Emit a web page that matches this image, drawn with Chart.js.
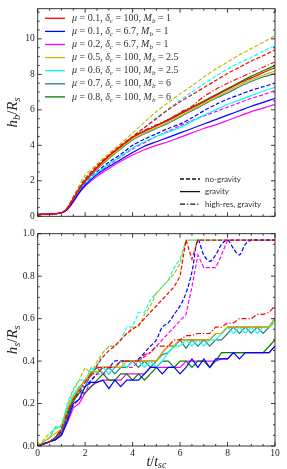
<!DOCTYPE html>
<html>
<head>
<meta charset="utf-8">
<script src="https://cdn.jsdelivr.net/npm/chart.js@4.4.1/dist/chart.umd.min.js"></script>
<style>
html, body { margin: 0; padding: 0; background: #fff; }
#wrap { position: relative; width: 287px; height: 469px; }
canvas { position: absolute; left: 0; }
#topChart { top: 0; }
#bottomChart { top: 225px; }
</style>
</head>
<body>
<div id="wrap">
  <canvas id="topChart" width="287" height="225"></canvas>
  <canvas id="bottomChart" width="287" height="244"></canvas>
</div>
<script>
// ── Legend parameters (order: red, blue, magenta, yellow, cyan, teal, green) ──
const colors = ['#ff0000', '#0000ff', '#ff00ff', '#bfbf00', '#00ffff', '#2a8080', '#008000'];
const muVals = ['0.1', '0.1', '0.2', '0.5', '0.6', '0.7', '0.8'];
const deltaVals = ['100', '6.7', '6.7', '100', '100', '100', '100'];
const mbVals = ['1', '1', '1', '2.5', '2.5', '6', '6'];

// ── Top panel: h_b / R_s ──────────────────────────────────────────────────
const topT = [0, 0.5, 1, 1.25, 1.5, 1.75, 2, 2.5, 3, 3.5, 4, 4.5, 5, 5.5, 6, 6.5, 7, 7.5, 8, 8.5, 9, 9.5, 10];
const topYTicks = [0, 2, 4, 6, 8, 10];

const topRedSolid     = [0.1, 0.12, 0.2, 0.45, 1.0, 1.55, 2.0, 2.75, 3.4, 3.95, 4.45, 4.8, 5.1, 5.4, 5.75, 6.1, 6.45, 6.8, 7.15, 7.5, 7.8, 8.1, 8.37];
const topBlueSolid    = [0.1, 0.12, 0.2, 0.4, 0.85, 1.35, 1.75, 2.35, 2.8, 3.2, 3.6, 3.95, 4.2, 4.45, 4.7, 4.95, 5.2, 5.45, 5.7, 5.95, 6.2, 6.42, 6.64];
const topMagentaSolid = [0.1, 0.12, 0.2, 0.38, 0.8, 1.3, 1.7, 2.25, 2.7, 3.1, 3.45, 3.75, 4.0, 4.2, 4.45, 4.7, 4.95, 5.15, 5.4, 5.65, 5.9, 6.1, 6.31];
const topYellowSolid  = [0.1, 0.12, 0.2, 0.45, 1.0, 1.55, 1.98, 2.7, 3.3, 3.85, 4.35, 4.7, 5.0, 5.3, 5.65, 6.0, 6.35, 6.7, 7.05, 7.4, 7.7, 7.95, 8.19];
const topCyanSolid    = [0.1, 0.12, 0.2, 0.4, 0.9, 1.4, 1.8, 2.45, 2.95, 3.4, 3.85, 4.2, 4.5, 4.75, 5.0, 5.35, 5.7, 6.0, 6.3, 6.55, 6.8, 7.05, 7.27];
const topTealSolid    = [0.1, 0.12, 0.2, 0.45, 1.0, 1.5, 1.95, 2.65, 3.25, 3.8, 4.3, 4.65, 4.95, 5.25, 5.6, 5.95, 6.3, 6.65, 6.95, 7.3, 7.6, 7.85, 8.05];
const topGreenSolid   = [0.1, 0.12, 0.2, 0.45, 1.0, 1.55, 2.0, 2.75, 3.4, 3.9, 4.45, 4.8, 5.1, 5.45, 5.8, 6.15, 6.5, 6.85, 7.2, 7.55, 7.9, 8.2, 8.5];

const topRedDashed     = [0.1, 0.12, 0.2, 0.47, 1.05, 1.6, 2.1, 2.85, 3.45, 4.0, 4.5, 5.0, 5.5, 6.0, 6.45, 6.85, 7.25, 7.65, 8.05, 8.4, 8.75, 9.05, 9.38];
const topBlueDashed    = [0.1, 0.12, 0.2, 0.42, 0.9, 1.45, 1.85, 2.5, 3.05, 3.5, 4.0, 4.35, 4.65, 4.95, 5.2, 5.55, 5.95, 6.3, 6.6, 6.85, 7.1, 7.3, 7.5];
const topMagentaDashed = [0.1, 0.12, 0.2, 0.4, 0.85, 1.4, 1.8, 2.4, 2.9, 3.35, 3.8, 4.15, 4.5, 4.8, 5.1, 5.4, 5.65, 5.9, 6.15, 6.4, 6.65, 6.85, 7.08];
const topYellowDashed  = [0.1, 0.12, 0.2, 0.5, 1.1, 1.75, 2.3, 2.95, 3.55, 4.1, 4.7, 5.3, 5.9, 6.4, 6.9, 7.35, 7.85, 8.3, 8.7, 9.1, 9.45, 9.8, 10.18];
const topCyanDashed    = [0.1, 0.12, 0.2, 0.48, 1.05, 1.65, 2.15, 2.8, 3.35, 3.9, 4.45, 5.0, 5.55, 6.05, 6.55, 7.0, 7.45, 7.9, 8.3, 8.65, 8.95, 9.3, 9.62];
const topRedDashDot    = [0.1, 0.12, 0.2, 0.45, 1.0, 1.55, 2.0, 2.75, 3.4, 3.95, 4.45, 4.85, 5.15, 5.45, 5.85, 6.2, 6.75, 7.15, 7.5, 7.8, 8.1, 8.4, 8.7];

// ── Bottom panel: h_s / R_s ───────────────────────────────────────────────
const botT = [0, 0.25, 0.5, 0.75, 1, 1.25, 1.5, 1.75, 2, 2.25, 2.5, 2.75, 3, 3.25, 3.5, 3.75, 4, 4.25, 4.5, 4.75,
              5, 5.25, 5.5, 5.75, 6, 6.25, 6.5, 6.75, 7, 7.25, 7.5, 7.75, 8, 8.25, 8.5, 8.75, 9, 9.25, 9.5, 9.75, 10];
const botXTicks = [0, 2, 4, 6, 8, 10];
const botYTicks = [0, 0.2, 0.4, 0.6, 0.8, 1.0];

const botRedSolid     = [0, 0.01, 0.02, 0.04, 0.08, 0.16, 0.22, 0.27, 0.31, 0.34, 0.37, 0.37, 0.37, 0.37, 0.4, 0.4, 0.4, 0.4, 0.4, 0.4, 0.4, 0.44, 0.47, 0.47, 0.5, 0.5, 0.5, 0.5, 0.5, 0.5, 0.53, 0.53, 0.56, 0.56, 0.56, 0.56, 0.56, 0.56, 0.56, 0.56, 0.6];
const botBlueSolid    = [0, 0.01, 0.02, 0.03, 0.05, 0.12, 0.2, 0.22, 0.28, 0.3, 0.3, 0.31, 0.27, 0.31, 0.28, 0.31, 0.31, 0.31, 0.34, 0.37, 0.37, 0.34, 0.37, 0.37, 0.34, 0.37, 0.41, 0.37, 0.41, 0.37, 0.41, 0.41, 0.41, 0.44, 0.41, 0.44, 0.44, 0.44, 0.44, 0.44, 0.47];
const botMagentaSolid = [0, 0.01, 0.02, 0.03, 0.05, 0.11, 0.18, 0.2, 0.25, 0.28, 0.3, 0.31, 0.31, 0.31, 0.31, 0.34, 0.34, 0.34, 0.34, 0.37, 0.37, 0.37, 0.37, 0.37, 0.37, 0.4, 0.4, 0.4, 0.4, 0.4, 0.4, 0.41, 0.41, 0.44, 0.44, 0.44, 0.44, 0.44, 0.44, 0.44, 0.47];
const botYellowSolid  = [0, 0.02, 0.04, 0.06, 0.08, 0.17, 0.23, 0.27, 0.31, 0.35, 0.35, 0.37, 0.37, 0.37, 0.37, 0.4, 0.4, 0.4, 0.4, 0.4, 0.4, 0.44, 0.47, 0.47, 0.5, 0.5, 0.5, 0.5, 0.5, 0.5, 0.53, 0.53, 0.56, 0.56, 0.56, 0.56, 0.56, 0.56, 0.56, 0.56, 0.6];
const botCyanSolid    = [0, 0.02, 0.04, 0.09, 0.09, 0.18, 0.24, 0.28, 0.3, 0.37, 0.34, 0.37, 0.34, 0.37, 0.4, 0.37, 0.4, 0.4, 0.37, 0.4, 0.37, 0.4, 0.44, 0.47, 0.47, 0.5, 0.47, 0.5, 0.47, 0.5, 0.5, 0.53, 0.56, 0.53, 0.56, 0.53, 0.56, 0.53, 0.56, 0.56, 0.58];
const botTealSolid    = [0, 0.01, 0.02, 0.04, 0.06, 0.16, 0.22, 0.28, 0.28, 0.34, 0.37, 0.34, 0.37, 0.34, 0.37, 0.37, 0.4, 0.37, 0.4, 0.37, 0.4, 0.43, 0.44, 0.47, 0.5, 0.46, 0.5, 0.47, 0.5, 0.47, 0.5, 0.5, 0.53, 0.56, 0.53, 0.56, 0.53, 0.56, 0.53, 0.56, 0.6];
const botGreenSolid   = [0, 0.01, 0.02, 0.03, 0.06, 0.14, 0.21, 0.25, 0.25, 0.28, 0.31, 0.34, 0.31, 0.31, 0.34, 0.34, 0.31, 0.34, 0.31, 0.34, 0.37, 0.4, 0.4, 0.37, 0.4, 0.4, 0.37, 0.4, 0.4, 0.37, 0.4, 0.44, 0.44, 0.44, 0.44, 0.44, 0.44, 0.44, 0.44, 0.47, 0.5];

const botRedDashed     = [0, 0.01, 0.02, 0.04, 0.08, 0.17, 0.23, 0.27, 0.31, 0.33, 0.38, 0.42, 0.45, 0.47, 0.5, 0.53, 0.55, 0.57, 0.6, 0.63, 0.66, 0.69, 0.72, 0.75, 0.8, 0.97, 0.88, 0.97, 0.97, 0.97, 0.97, 0.97, 0.97, 0.97, 0.97, 0.97, 0.97, 0.97, 0.97, 0.97, 0.97];
const botBlueDashed    = [0, 0.01, 0.02, 0.04, 0.07, 0.14, 0.22, 0.25, 0.28, 0.31, 0.34, 0.37, 0.37, 0.4, 0.4, 0.4, 0.4, 0.41, 0.44, 0.47, 0.5, 0.56, 0.58, 0.62, 0.66, 0.72, 0.82, 0.97, 0.9, 0.87, 0.9, 0.95, 0.97, 0.93, 0.9, 0.95, 0.97, 0.97, 0.97, 0.97, 0.97];
const botMagentaDashed = [0, 0.01, 0.02, 0.04, 0.06, 0.12, 0.19, 0.22, 0.25, 0.31, 0.34, 0.34, 0.34, 0.37, 0.37, 0.37, 0.37, 0.4, 0.42, 0.44, 0.47, 0.5, 0.53, 0.56, 0.59, 0.62, 0.75, 0.9, 0.84, 0.84, 0.84, 0.9, 0.97, 0.97, 0.97, 0.97, 0.97, 0.97, 0.97, 0.97, 0.97];
const botYellowDashed  = [0, 0.03, 0.06, 0.08, 0.1, 0.19, 0.26, 0.31, 0.37, 0.34, 0.4, 0.44, 0.47, 0.47, 0.5, 0.53, 0.56, 0.56, 0.62, 0.66, 0.72, 0.75, 0.78, 0.81, 0.86, 0.97, 0.97, 0.97, 0.97, 0.97, 0.97, 0.97, 0.97, 0.97, 0.97, 0.97, 0.97, 0.97, 0.97, 0.97, 0.97];
const botCyanDashed    = [0, 0.02, 0.04, 0.09, 0.09, 0.2, 0.27, 0.31, 0.31, 0.34, 0.38, 0.44, 0.47, 0.47, 0.5, 0.56, 0.56, 0.63, 0.63, 0.69, 0.72, 0.75, 0.78, 0.84, 0.88, 0.97, 0.97, 0.97, 0.97, 0.97, 0.97, 0.97, 0.97, 0.97, 0.97, 0.97, 0.97, 0.97, 0.97, 0.97, 0.97];
const botRedDashDot    = [0, 0.01, 0.02, 0.04, 0.08, 0.16, 0.22, 0.26, 0.3, 0.34, 0.34, 0.37, 0.37, 0.37, 0.4, 0.4, 0.4, 0.4, 0.43, 0.44, 0.47, 0.47, 0.47, 0.5, 0.5, 0.52, 0.52, 0.53, 0.53, 0.53, 0.56, 0.56, 0.58, 0.58, 0.6, 0.6, 0.6, 0.62, 0.62, 0.63, 0.66];

const SERIF = '"Liberation Serif", "DejaVu Serif", serif';
const DASHES = { solid: [], dashed: [4, 2], dashdot: [5, 2, 1.2, 2] };

function makeSet(xs, ys, color, kind, order, tension) {
    return {
        data: ys.map((v, i) => ({ x: xs[i], y: v })),
        borderColor: color,
        backgroundColor: 'transparent',
        borderWidth: 1.2,
        borderDash: DASHES[kind],
        pointRadius: 0,
        tension: tension || 0,
        order: order
    };
}

// draw text made of pieces: [text, kind] kind = r (roman), i (italic), si (italic subscript)
function drawRich(ctx, x, y, parts, size, align) {
    const fontOf = k => (k.endsWith('i') ? 'italic ' : '') + (k[0] === 's' ? size * 0.7 : size) + 'px ' + SERIF;
    let w = 0;
    parts.forEach(p => { ctx.font = fontOf(p[1]); w += ctx.measureText(p[0]).width; });
    let cx = align === 'center' ? x - w / 2 : x;
    ctx.textAlign = 'left';
    ctx.textBaseline = 'middle';
    parts.forEach(p => {
        ctx.font = fontOf(p[1]);
        ctx.fillText(p[0], cx, y + (p[1][0] === 's' ? size * 0.28 : 0));
        cx += ctx.measureText(p[0]).width;
    });
}

// frame + inward ticks on all four sides (matplotlib style)
const frameTicks = {
    id: 'frameTicks',
    afterDatasetsDraw(chart, args, o) {
        const { ctx, chartArea: a } = chart;
        const sx = chart.scales.x, sy = chart.scales.y;
        ctx.save();
        ctx.strokeStyle = '#222';
        ctx.lineWidth = 0.9;
        ctx.strokeRect(a.left, a.top, a.right - a.left, a.bottom - a.top);
        ctx.beginPath();
        for (let v = o.xMin; v <= o.xMax + 1e-9; v += o.xMinor) {
            const len = o.xMajors.some(m => Math.abs(m - v) < 1e-6) ? 4 : 2;
            const px = sx.getPixelForValue(v);
            ctx.moveTo(px, a.bottom); ctx.lineTo(px, a.bottom - len);
            ctx.moveTo(px, a.top); ctx.lineTo(px, a.top + len);
        }
        for (let v = o.yMin; v <= o.yMax + 1e-9; v += o.yMinor) {
            const len = o.yMajors.some(m => Math.abs(m - v) < 1e-6) ? 4 : 2;
            const py = sy.getPixelForValue(v);
            ctx.moveTo(a.left, py); ctx.lineTo(a.left + len, py);
            ctx.moveTo(a.right, py); ctx.lineTo(a.right - len, py);
        }
        ctx.stroke();
        ctx.restore();
    },
    afterDraw(chart, args, o) {
        const { ctx, chartArea: a } = chart;
        ctx.save();
        ctx.fillStyle = '#222';
        ctx.translate(13, (a.top + a.bottom) / 2);
        ctx.rotate(-Math.PI / 2);
        drawRich(ctx, 0, 0, o.yTitle, 15, 'center');
        ctx.restore();
        if (o.xTitle) {
            ctx.save();
            ctx.fillStyle = '#222';
            drawRich(ctx, (a.left + a.right) / 2, a.bottom + 16, o.xTitle, 14, 'center');
            ctx.restore();
        }
    }
};

// legends inside the top panel
const legends = {
    id: 'legends',
    afterDraw(chart) {
        const ctx = chart.ctx;
        ctx.save();
        colors.forEach((c, i) => {
            const y = 18.3 + i * 13.1;
            ctx.strokeStyle = c;
            ctx.lineWidth = 1.3;
            ctx.beginPath(); ctx.moveTo(45, y); ctx.lineTo(65, y); ctx.stroke();
            ctx.fillStyle = '#333';
            drawRich(ctx, 72, y, [['μ', 'i'], [' = ', 'r'], [muVals[i], 'r'], [', ', 'r'], ['δ', 'i'], ['c', 'si'],
                [' = ', 'r'], [deltaVals[i], 'r'], [', ', 'r'], ['M', 'i'], ['b', 'si'], [' = ', 'r'], [mbVals[i], 'r']], 10, 'left');
        });
        const styles = [['dashed', 'no-gravity'], ['solid', 'gravity'], ['dashdot', 'high-res, gravity']];
        styles.forEach((s, i) => {
            const y = 179 + i * 12.6;
            ctx.strokeStyle = '#111';
            ctx.lineWidth = 1.3;
            ctx.setLineDash(DASHES[s[0]]);
            ctx.beginPath(); ctx.moveTo(180, y); ctx.lineTo(200, y); ctx.stroke();
            ctx.setLineDash([]);
            ctx.fillStyle = '#333';
            ctx.font = '8px Lato, "Open Sans", sans-serif';
            ctx.textAlign = 'left';
            ctx.textBaseline = 'middle';
            ctx.fillText(s[1], 205, y);
        });
        ctx.restore();
    }
};

function axisOptions(o) {
    return {
        x: {
            type: 'linear', min: 0, max: 10,
            grid: { display: false, drawTicks: false },
            border: { display: false },
            ticks: { display: o.xLabels, stepSize: 2, autoSkip: false, maxRotation: 0, padding: 2,
                     color: '#222', font: { family: SERIF, size: 9.5 } },
            afterFit: s => { s.height = o.xHeight; }
        },
        y: {
            type: 'linear', min: o.yMin, max: o.yMax,
            grid: { display: false, drawTicks: false },
            border: { display: false },
            ticks: { stepSize: o.yStep, includeBounds: false, autoSkip: false, padding: 3,
                     color: '#222', font: { family: SERIF, size: 9.5 },
                     callback: o.yFmt },
            afterFit: s => { s.width = 37.7; }
        }
    };
}

// ── Top chart ─────────────────────────────────────────────────────────────
const topSolids = [topRedSolid, topBlueSolid, topMagentaSolid, topYellowSolid, topCyanSolid, topTealSolid, topGreenSolid];
const topDashed = [topRedDashed, topBlueDashed, topMagentaDashed, topYellowDashed, topCyanDashed];
const topSets = [];
topDashed.forEach((ys, i) => topSets.push(makeSet(topT, ys, colors[i], 'dashed', 2, 0.3)));
topSets.push(makeSet(topT, topRedDashDot, colors[0], 'dashdot', 1, 0.3));
topSolids.forEach((ys, i) => topSets.push(makeSet(topT, ys, colors[i], 'solid', 1, 0.3)));

new Chart(document.getElementById('topChart'), {
    type: 'line',
    data: { datasets: topSets },
    options: {
        responsive: false, animation: false, devicePixelRatio: 1, events: [],
        layout: { padding: { top: 5, right: 12, bottom: 7.5, left: 0 } },
        plugins: {
            legend: { display: false }, tooltip: { enabled: false },
            frameTicks: { xMin: 0, xMax: 10, xMinor: 0.5, xMajors: botXTicks, yMin: 0, yMax: 11.7, yMinor: 0.5, yMajors: topYTicks,
                          yTitle: [['h', 'i'], ['b', 'si'], ['/', 'r'], ['R', 'i'], ['s', 'si']] }
        },
        scales: axisOptions({ xLabels: false, xHeight: 0, yMin: 0, yMax: 11.7, yStep: 2, yFmt: v => String(v) })
    },
    plugins: [frameTicks, legends]
});

// ── Bottom chart ──────────────────────────────────────────────────────────
const botSolids = [botRedSolid, botBlueSolid, botMagentaSolid, botYellowSolid, botCyanSolid, botTealSolid, botGreenSolid];
const botDashed = [botRedDashed, botBlueDashed, botMagentaDashed, botYellowDashed, botCyanDashed];
const botSets = [];
botDashed.forEach((ys, i) => botSets.push(makeSet(botT, ys, colors[i], 'dashed', 2, i === 1 ? 0.35 : 0)));
botSets.push(makeSet(botT, botRedDashDot, colors[0], 'dashdot', 1));
botSolids.forEach((ys, i) => botSets.push(makeSet(botT, ys, colors[i], 'solid', (i === 0 || i === 2) ? 5 : 1)));

new Chart(document.getElementById('bottomChart'), {
    type: 'line',
    data: { datasets: botSets },
    options: {
        responsive: false, animation: false, devicePixelRatio: 1, events: [],
        layout: { padding: { top: 7.7, right: 12, bottom: 0, left: 0 } },
        plugins: {
            legend: { display: false }, tooltip: { enabled: false },
            frameTicks: { xMin: 0, xMax: 10, xMinor: 0.5, xMajors: botXTicks, yMin: 0, yMax: 1, yMinor: 0.05, yMajors: botYTicks,
                          yTitle: [['h', 'i'], ['s', 'si'], ['/', 'r'], ['R', 'i'], ['s', 'si']],
                          xTitle: [['t', 'i'], ['/', 'r'], ['t', 'i'], ['sc', 'si']] }
        },
        scales: axisOptions({ xLabels: true, xHeight: 23, yMin: 0, yMax: 1, yStep: 0.2, yFmt: v => v.toFixed(1) })
    },
    plugins: [frameTicks]
});
</script>
</body>
</html>
